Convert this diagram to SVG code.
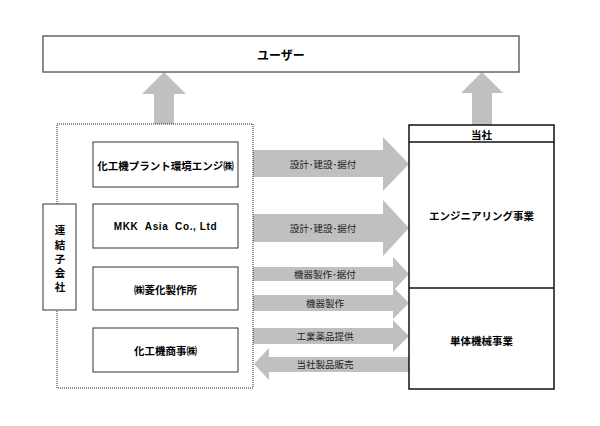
<svg xmlns="http://www.w3.org/2000/svg" width="600" height="426" viewBox="0 0 600 426">
<style>
.box{fill:#fff;stroke:#333;stroke-width:1}
.hd{fill:#fff;stroke:#111;stroke-width:1.5}
.arr{fill:#c0c0c0;stroke:none}
.t{font-family:"Noto Sans CJK JP","Noto Sans",sans-serif;font-weight:bold;font-size:10.5px;fill:#000;text-anchor:middle;dominant-baseline:central}
.l{font-family:"Noto Sans CJK JP","Noto Sans",sans-serif;font-size:9.5px;fill:#222;text-anchor:middle;dominant-baseline:central}
</style>
<rect width="600" height="426" fill="#fff"/>
<g id="connectors">
<polygon class="arr" points="164,72 186,94 174,94 174,124 154,124 154,94 142,94"/>
<polygon class="arr" points="482,72 503,93 492,93 492,125 472,125 472,93 461,93"/>
<polygon class="arr" points="253,150 383,150 383,137 409,164 383,191 383,177 253,177"/>
<polygon class="arr" points="253,214 383,214 383,200 409,228 383,256 383,242 253,242"/>
<polygon class="arr" points="253,267 393,267 393,257 409,274 393,291 393,281 253,281"/>
<polygon class="arr" points="253,295 393,295 393,287 409,303 393,319 393,311 253,311"/>
<polygon class="arr" points="253,328 393,328 393,320 409,336 393,352 393,344 253,344"/>
<polygon class="arr" points="409,357 269,357 269,348 254,364 269,380 269,372 409,372"/>
<text class="l" x="323" y="164">設計･建設･据付</text>
<text class="l" x="323" y="228">設計･建設･据付</text>
<text class="l" x="325" y="274">機器製作･据付</text>
<text class="l" x="325" y="303">機器製作</text>
<text class="l" x="325" y="336">工業薬品提供</text>
<text class="l" x="325" y="364">当社製品販売</text>
</g>
<g id="user">
<rect x="43" y="36" width="476" height="36" fill="#fff" stroke="#666" stroke-width="1.5"/>
<text class="t" x="281" y="54" style="font-size:12px">ユーザー</text>
</g>
<g id="subsidiaries">
<rect x="57" y="124" width="196" height="264" fill="none" stroke="#222" stroke-width="1" stroke-dasharray="1,1"/>
</g>
<g id="label-renketsu">
<rect class="box" x="43" y="204" width="33" height="106"/>
<text class="t" x="60" y="229">連</text>
<text class="t" x="60" y="244">結</text>
<text class="t" x="60" y="258">子</text>
<text class="t" x="60" y="272">会</text>
<text class="t" x="60" y="286">社</text>
</g>
<g id="n1">
<rect class="box" x="93" y="142" width="145" height="45"/>
<text class="t" x="165.5" y="165">化工機プラント環境エンジ㈱</text>
</g>
<g id="n2">
<rect class="box" x="93" y="204" width="145" height="44"/>
<text class="t" x="165.5" y="226" xml:space="preserve" style="font-family:'Liberation Sans',Arial,sans-serif;font-size:10px;letter-spacing:0.6px">MKK  Asia  Co., Ltd</text>
</g>
<g id="n3">
<rect class="box" x="93" y="267" width="145" height="43"/>
<text class="t" x="165.5" y="289">㈱菱化製作所</text>
</g>
<g id="n4">
<rect class="box" x="93" y="328" width="145" height="44"/>
<text class="t" x="165.5" y="350">化工機商事㈱</text>
</g>
<g id="company">
<rect class="hd" x="409" y="125" width="145" height="264"/>
<line x1="409" y1="142" x2="554" y2="142" stroke="#111" stroke-width="1.5"/>
<line x1="409" y1="288" x2="554" y2="288" stroke="#111" stroke-width="1.5"/>
<text class="t" x="481.5" y="134">当社</text>
<text class="t" x="481.5" y="215">エンジニアリング事業</text>
<text class="t" x="481.5" y="340">単体機械事業</text>
</g>
</svg>
